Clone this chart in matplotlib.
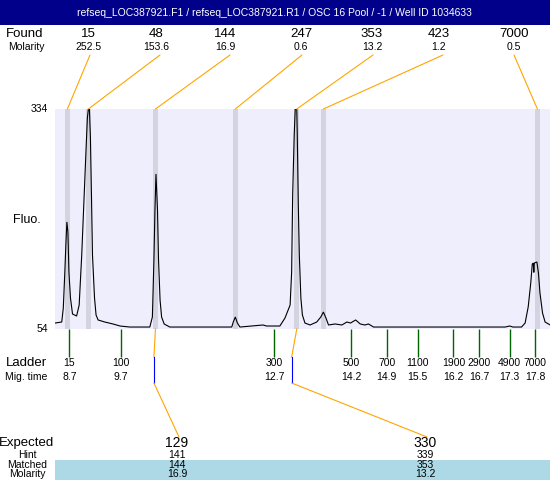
import matplotlib
matplotlib.use("Agg")
import matplotlib.pyplot as plt
from matplotlib.patches import Rectangle
from matplotlib.transforms import blended_transform_factory

plt.rcParams['font.family'] = ['Liberation Sans', 'DejaVu Sans']

# --- data ---
title = "refseq_LOC387921.F1 / refseq_LOC387921.R1 / OSC 16 Pool / -1 / Well ID 1034633"

# electropherogram trace (migration time s, fluorescence)
trace_time = [8.42, 8.55, 8.58, 8.61, 8.63, 8.65, 8.67, 8.69, 8.72, 8.76, 8.84, 8.89, 8.94, 8.98,
              9.02, 9.05, 9.07, 9.09, 9.11, 9.13, 9.15, 9.19, 9.22, 9.26, 9.39, 9.55, 9.69, 9.88,
              10.27, 10.32, 10.35, 10.37, 10.39, 10.42, 10.44, 10.47, 10.50, 10.55, 10.66,
              11.87, 11.90, 11.94, 11.98, 12.03, 12.48, 12.55, 12.81, 12.91, 13.01, 13.04, 13.06,
              13.09, 13.11, 13.14, 13.15, 13.17, 13.19, 13.22, 13.25, 13.30, 13.40, 13.53, 13.61,
              13.66, 13.71, 13.76, 13.89, 14.02, 14.12, 14.19, 14.29, 14.38, 14.47, 14.54, 14.64,
              14.77, 17.21, 17.30, 17.36, 17.53, 17.60, 17.66, 17.71, 17.74, 17.76, 17.77, 17.78,
              17.83, 17.86, 17.89, 17.94, 17.99, 18.09]
trace_fluo = [61.6, 62.9, 80.7, 126.5, 160.9, 190.2, 177.5, 126.5, 93.5, 73.1, 70.5, 84.5, 148.2, 211.8,
              275.5, 322.5, 334, 334, 297.1, 224.5, 148.2, 93.5, 71.8, 65.5, 62.9, 60.4, 57.8, 56.5,
              56.5, 69.3, 141.8, 205.5, 251.3, 205.5, 141.8, 90.9, 69.3, 60.4, 56.5,
              56.5, 62.9, 69.3, 61.6, 56.5, 59.1, 57.8, 57.8, 68.0, 84.5, 126.5, 224.5,
              300.9, 334, 334, 300.9, 211.8, 148.2, 93.5, 71.8, 61.6, 59.1, 62.9, 69.3,
              75.6, 68.0, 59.1, 60.4, 59.1, 62.9, 61.6, 65.5, 60.4, 59.1, 60.4, 56.5,
              56.5, 56.5, 57.8, 56.5, 56.5, 61.6, 82.0, 112.5, 136.7, 138.0, 126.0, 138.0,
              139.3, 125.3, 99.8, 74.4, 62.9, 59.1]

fluo_min = 54
fluo_max = 334

found_size = [15, 48, 144, 247, 353, 423, 7000]
found_molarity = [252.5, 153.6, 16.9, 0.6, 13.2, 1.2, 0.5]
found_time = [8.66, 9.07, 10.38, 11.94, 13.14, 13.66, 17.84]

ladder_size = [15, 100, 300, 500, 700, 1100, 1900, 2900, 4900, 7000]
ladder_time = [8.7, 9.7, 12.7, 14.2, 14.9, 15.5, 16.2, 16.7, 17.3, 17.8]

expected_size = [129, 330]
expected_time = [10.35, 13.04]
hint_size = [141, 339]
matched_size = [144, 353]
matched_molarity = [16.9, 13.2]
matched_found_time = [10.38, 13.14]

# --- layout helpers (pixel -> figure fraction) ---
W, H = 550, 480


def fx(px):
    return px / W


def fy(py):
    return 1 - py / H


# header column positions (pixels)
found_label_x = [88, 156, 225, 301, 372, 439, 514]
found_line_x = [90, 160, 230, 302, 373, 443, 514]

fig = plt.figure(figsize=(5.5, 4.8), dpi=100)
fig.patch.set_facecolor('white')

# title bar
fig.patches.append(Rectangle((0, fy(25)), 1, 25 / H, transform=fig.transFigure,
                             facecolor='#00008B', edgecolor='none'))
fig.text(fx(274), fy(13), title, color='white', fontsize=7.5, ha='center', va='center')

# plot area
ax = fig.add_axes([fx(55), fy(329), fx(495), 220 / H])
ax.set_facecolor('#EEEEFC')
for s in ax.spines.values():
    s.set_visible(False)
ax.set_xticks([])
ax.set_yticks([])
ax.set_xlim(8.418, 18.086)
ax.set_ylim(fluo_min, fluo_max)

band_w = 0.098
for t in found_time:
    ax.axvspan(t - band_w / 2, t + band_w / 2, color='#D4D4E0', lw=0)

ax.plot(trace_time, trace_fluo, color='black', lw=0.8, solid_joinstyle='miter')

fig.text(fx(48), fy(109), str(fluo_max), fontsize=7.5, ha='right', va='center')
fig.text(fx(48), fy(329), str(fluo_min), fontsize=7.5, ha='right', va='center')
fig.text(fx(13), fy(220), "Fluo.", fontsize=9, ha='left', va='center')

trans = blended_transform_factory(ax.transData, fig.transFigure)
line_kw = dict(arrowstyle='-', color='orange', lw=0.8, shrinkA=0, shrinkB=0)

# found peaks header
fig.text(fx(25), fy(34), "Found", fontsize=9.5, ha='center', va='center')
fig.text(fx(26), fy(47), "Molarity", fontsize=7.5, ha='center', va='center')
for sz, mol, t, lx, ln in zip(found_size, found_molarity, found_time, found_label_x, found_line_x):
    fig.text(fx(lx), fy(34), str(sz), fontsize=9.5, ha='center', va='center')
    fig.text(fx(lx), fy(47), f"{mol:.1f}", fontsize=7.5, ha='center', va='center')
    ax.annotate('', xy=(t, fluo_max), xycoords='data',
                xytext=(fx(ln), fy(55)), textcoords='figure fraction',
                arrowprops=line_kw, annotation_clip=False)

# ladder
ax.vlines(ladder_time, fy(329), fy(357), transform=trans, color='#006400', lw=1, clip_on=False)
fig.text(fx(26), fy(363), "Ladder", fontsize=9.5, ha='center', va='center')
fig.text(fx(26), fy(377), "Mig. time", fontsize=7.5, ha='center', va='center')
for sz, t in zip(ladder_size, ladder_time):
    fig.text(t, fy(363), str(sz), transform=trans, fontsize=7.5, ha='center', va='center')
    fig.text(t, fy(377), f"{t:.1f}", transform=trans, fontsize=7.5, ha='center', va='center')

# expected / matched table
fig.patches.append(Rectangle((fx(55), 0), fx(495), 20 / H, transform=fig.transFigure,
                             facecolor='#ADD8E6', edgecolor='none'))
fig.text(fx(27), fy(443), "Expected", fontsize=9.5, ha='center', va='center')
fig.text(fx(27), fy(455), "Hint", fontsize=7.5, ha='center', va='center')
fig.text(fx(27), fy(465), "Matched", fontsize=7.5, ha='center', va='center')
fig.text(fx(27), fy(474), "Molarity", fontsize=7.5, ha='center', va='center')

col_x = [177, 425]
for cx, e, et, h, m, mm, ft in zip(col_x, expected_size, expected_time, hint_size,
                                     matched_size, matched_molarity, matched_found_time):
    ax.plot([ft, et], [fy(329), fy(357)], transform=trans, color='orange', lw=0.8, clip_on=False)
    ax.plot([et, et], [fy(357), fy(383)], transform=trans, color='blue', lw=0.8, clip_on=False)
    ax.annotate('', xy=(et, fy(383)), xycoords=trans,
                xytext=(fx(cx + 2), fy(437)), textcoords='figure fraction',
                arrowprops=line_kw, annotation_clip=False)
    fig.text(fx(cx), fy(443), str(e), fontsize=10, ha='center', va='center')
    fig.text(fx(cx), fy(455), str(h), fontsize=7.5, ha='center', va='center')
    fig.text(fx(cx), fy(465), str(m), fontsize=7.5, ha='center', va='center')
    fig.text(fx(cx), fy(474), f"{mm:.1f}", fontsize=7.5, ha='center', va='center')

fig.savefig("out.png", dpi=100)
